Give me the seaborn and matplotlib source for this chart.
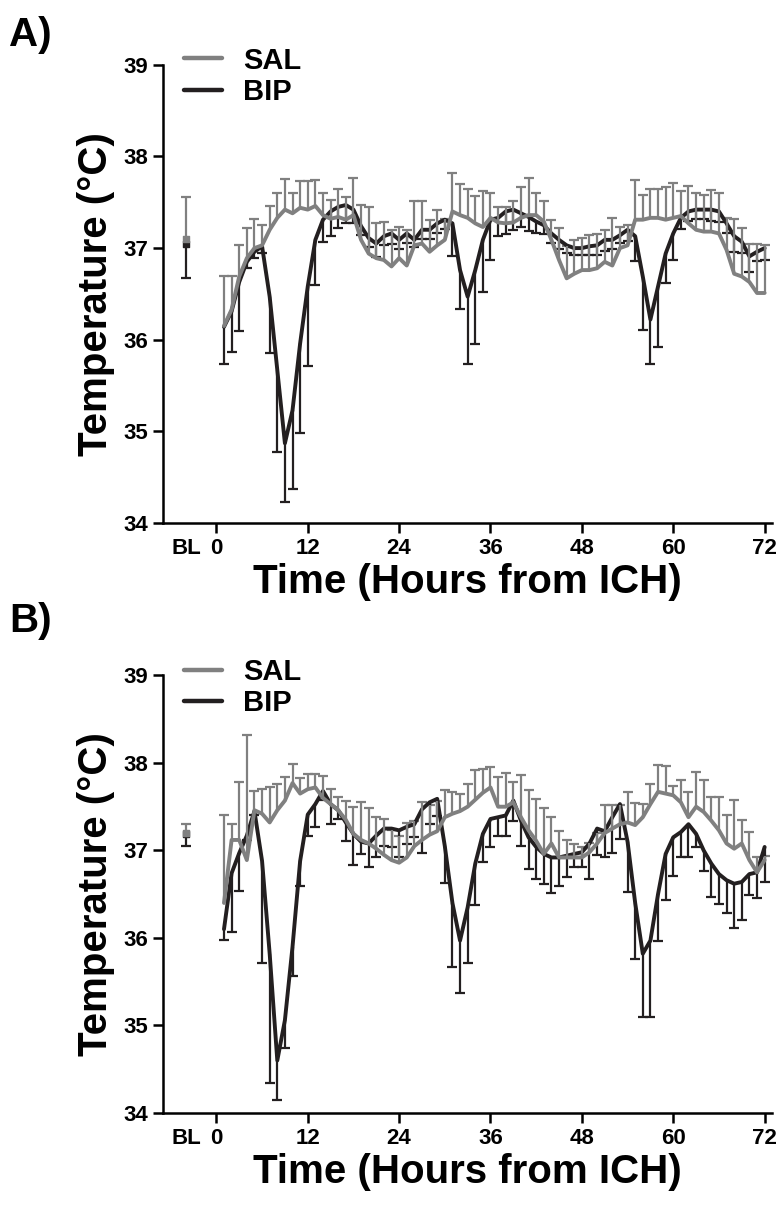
"""
ICH後の体温推移 (SAL vs BIP) を2パネルで再描画する。
SALは上側、BIPは下側のみのエラーバー (SEM)。
"""

import matplotlib
matplotlib.use("Agg")
import matplotlib.pyplot as plt
import numpy as np
import pandas as pd
import seaborn as sns
from matplotlib.lines import Line2D

hours = list(range(1, 73))

# Panel A
sal_a = [36.15, 36.33, 36.69, 36.89, 37.00, 37.03, 37.20, 37.33, 37.42, 37.38, 37.44, 37.42,
         37.46, 37.36, 37.32, 37.34, 37.31, 37.36, 37.09, 36.94, 36.89, 36.87, 36.80, 36.89,
         36.81, 37.03, 37.05, 36.96, 37.03, 37.09, 37.40, 37.36, 37.33, 37.27, 37.23, 37.33,
         37.28, 37.27, 37.28, 37.33, 37.36, 37.36, 37.29, 37.09, 36.87, 36.67, 36.72, 36.76,
         36.76, 36.78, 36.85, 36.81, 37.00, 37.03, 37.31, 37.31, 37.33, 37.33, 37.31, 37.33,
         37.35, 37.27, 37.20, 37.18, 37.18, 37.16, 36.98, 36.72, 36.69, 36.63, 36.51, 36.51]
sal_a_err = [0.55, 0.37, 0.34, 0.33, 0.32, 0.22, 0.26, 0.27, 0.33, 0.22, 0.29, 0.31,
             0.28, 0.24, 0.20, 0.30, 0.25, 0.40, 0.38, 0.51, 0.38, 0.42, 0.40, 0.34,
             0.39, 0.48, 0.46, 0.35, 0.39, 0.23, 0.42, 0.34, 0.31, 0.30, 0.39, 0.27,
             0.17, 0.18, 0.23, 0.34, 0.40, 0.24, 0.22, 0.22, 0.35, 0.35, 0.37, 0.35,
             0.38, 0.37, 0.35, 0.52, 0.23, 0.22, 0.43, 0.27, 0.32, 0.32, 0.36, 0.38,
             0.27, 0.41, 0.40, 0.40, 0.45, 0.44, 0.35, 0.60, 0.53, 0.42, 0.54, 0.52]
bip_a = [36.14, 36.31, 36.63, 36.85, 36.96, 37.02, 36.47, 35.67, 34.87, 35.23, 35.96, 36.58,
         37.09, 37.31, 37.40, 37.45, 37.47, 37.42, 37.24, 37.11, 37.05, 37.13, 37.16, 37.09,
         37.16, 37.09, 37.20, 37.20, 37.27, 37.31, 37.27, 36.76, 36.47, 36.76, 37.09, 37.31,
         37.33, 37.40, 37.42, 37.38, 37.34, 37.29, 37.25, 37.16, 37.09, 37.03, 37.00, 37.00,
         37.02, 37.03, 37.09, 37.09, 37.14, 37.20, 37.13, 36.69, 36.22, 36.58, 36.94, 37.16,
         37.33, 37.40, 37.42, 37.42, 37.42, 37.40, 37.27, 37.13, 37.07, 36.91, 36.96, 37.00]
bip_a_err = [0.40, 0.44, 0.54, 0.07, 0.07, 0.07, 0.62, 0.89, 0.64, 0.86, 0.98, 0.87,
             0.49, 0.24, 0.27, 0.23, 0.20, 0.15, 0.10, 0.10, 0.15, 0.10, 0.12, 0.10,
             0.10, 0.08, 0.10, 0.10, 0.10, 0.10, 0.36, 0.43, 0.73, 0.81, 0.57, 0.44,
             0.20, 0.25, 0.22, 0.15, 0.15, 0.12, 0.10, 0.10, 0.10, 0.08, 0.08, 0.08,
             0.10, 0.10, 0.12, 0.10, 0.08, 0.12, 0.27, 0.58, 0.49, 0.66, 0.32, 0.29,
             0.12, 0.10, 0.10, 0.10, 0.12, 0.12, 0.10, 0.17, 0.12, 0.17, 0.10, 0.13]

# Panel B
sal_b = [36.40, 37.12, 37.12, 36.89, 37.46, 37.42, 37.32, 37.46, 37.57, 37.77, 37.65, 37.70,
         37.72, 37.60, 37.53, 37.46, 37.35, 37.19, 37.12, 37.08, 37.02, 36.95, 36.89, 36.86,
         36.92, 37.05, 37.12, 37.18, 37.22, 37.38, 37.42, 37.45, 37.50, 37.58, 37.66, 37.72,
         37.50, 37.50, 37.55, 37.38, 37.23, 37.11, 36.96, 37.08, 36.92, 36.92, 36.92, 36.92,
         36.98, 37.08, 37.20, 37.25, 37.30, 37.32, 37.29, 37.38, 37.53, 37.67, 37.65, 37.63,
         37.55, 37.38, 37.50, 37.44, 37.34, 37.23, 37.08, 37.02, 37.08, 36.89, 36.75, 36.89]
sal_b_err = [1.00, 0.18, 0.66, 1.43, 0.22, 0.28, 0.40, 0.30, 0.27, 0.22, 0.18, 0.17,
             0.15, 0.25, 0.17, 0.15, 0.22, 0.31, 0.43, 0.41, 0.36, 0.41, 0.34, 0.31,
             0.39, 0.29, 0.43, 0.34, 0.35, 0.31, 0.25, 0.20, 0.26, 0.34, 0.27, 0.23,
             0.34, 0.38, 0.23, 0.48, 0.46, 0.48, 0.52, 0.30, 0.30, 0.20, 0.15, 0.12,
             0.10, 0.12, 0.32, 0.27, 0.22, 0.35, 0.25, 0.15, 0.23, 0.31, 0.31, 0.11,
             0.25, 0.29, 0.40, 0.37, 0.27, 0.38, 0.33, 0.56, 0.27, 0.32, 0.18, 0.05]
bip_b = [36.10, 36.74, 36.97, 37.17, 37.45, 36.88, 35.82, 34.60, 35.06, 35.90, 36.88, 37.41,
         37.53, 37.68, 37.53, 37.46, 37.32, 37.19, 37.10, 37.08, 37.17, 37.25, 37.25, 37.23,
         37.27, 37.30, 37.47, 37.55, 37.59, 37.05, 36.40, 35.97, 36.35, 36.85, 37.19, 37.36,
         37.38, 37.40, 37.57, 37.34, 37.15, 37.04, 36.96, 36.92, 36.92, 36.94, 36.96, 36.98,
         37.08, 37.25, 37.22, 37.38, 37.53, 37.10, 36.40, 35.82, 35.97, 36.50, 36.96, 37.15,
         37.21, 37.30, 37.19, 37.00, 36.85, 36.73, 36.66, 36.62, 36.64, 36.73, 36.75, 37.04]
bip_b_err = [0.12, 0.67, 0.43, 0.05, 0.05, 1.17, 1.48, 0.45, 0.32, 0.34, 0.29, 0.24,
             0.26, 0.10, 0.23, 0.10, 0.21, 0.36, 0.14, 0.27, 0.24, 0.20, 0.21, 0.30,
             0.20, 0.15, 0.50, 0.25, 0.20, 0.42, 0.73, 0.60, 0.64, 0.47, 0.32, 0.32,
             0.21, 0.23, 0.23, 0.29, 0.36, 0.37, 0.34, 0.41, 0.33, 0.24, 0.15, 0.17,
             0.41, 0.30, 0.29, 0.41, 0.40, 0.57, 0.64, 0.72, 0.87, 0.53, 0.53, 0.44,
             0.29, 0.38, 0.15, 0.23, 0.38, 0.34, 0.38, 0.51, 0.44, 0.24, 0.29, 0.40]

# ベースライン (BL)
bl_x = -4
bl_a = {"SAL": (37.10, 0.46), "BIP": (37.05, 0.38)}
bl_b = {"SAL": (37.20, 0.10), "BIP": (37.19, 0.14)}

xtick_pos = [-4, 0, 12, 24, 36, 48, 60, 72]
xtick_labels = ["BL", "0", "12", "24", "36", "48", "60", "72"]
ytick_pos = [34, 35, 36, 37, 38, 39]

SAL_COLOR = "#808080"
BIP_COLOR = "#231f20"


def one_sided_bars(ax, x, y, err, direction, color):
    # 片側だけのエラーバー (平均側にはキャップを付けない)
    y = np.asarray(y)
    tip = y + direction * np.asarray(err)
    ax.vlines(x, np.minimum(y, tip), np.maximum(y, tip), color=color, linewidth=1.6)
    ax.scatter(x, tip, marker="_", s=60, linewidths=1.6, color=color)


def draw_panel(ax, sal, sal_err, bip, bip_err, bl):
    bip_df = pd.DataFrame({"hour": hours, "temp": bip})
    sal_df = pd.DataFrame({"hour": hours, "temp": sal})

    one_sided_bars(ax, hours, bip, bip_err, -1, BIP_COLOR)
    sns.lineplot(data=bip_df, x="hour", y="temp", color=BIP_COLOR, linewidth=2.8, ax=ax)

    one_sided_bars(ax, hours, sal, sal_err, +1, SAL_COLOR)
    sns.lineplot(data=sal_df, x="hour", y="temp", color=SAL_COLOR, linewidth=2.8, ax=ax)

    # BL
    one_sided_bars(ax, [bl_x], [bl["BIP"][0]], [bl["BIP"][1]], -1, BIP_COLOR)
    one_sided_bars(ax, [bl_x], [bl["SAL"][0]], [bl["SAL"][1]], +1, SAL_COLOR)
    ax.scatter([bl_x], [bl["BIP"][0]], marker="s", s=14, color=BIP_COLOR, zorder=3)
    ax.scatter([bl_x], [bl["SAL"][0]], marker="s", s=14, color=SAL_COLOR, zorder=3)

    ax.set_xlim(-7, 73)
    ax.set_ylim(34, 39)
    ax.set_xticks(xtick_pos)
    ax.set_xticklabels(xtick_labels)
    ax.set_yticks(ytick_pos)
    ax.xaxis.get_major_ticks()[0].tick1line.set_visible(False)
    ax.tick_params(axis="both", labelsize=16, width=1.8, length=7, direction="out",
                   colors="black")

    ax.set_xlabel("Time (Hours from ICH)", fontsize=29, fontweight="bold", labelpad=3,
                  color="black")
    ax.set_ylabel("Temperature (°C)", fontsize=29, fontweight="bold", labelpad=6,
                  color="black")

    for side in ["left", "bottom"]:
        ax.spines[side].set_linewidth(1.8)
        ax.spines[side].set_color("black")
    sns.despine(ax=ax)

    handles = [Line2D([0], [0], color=SAL_COLOR, linewidth=3.2),
               Line2D([0], [0], color=BIP_COLOR, linewidth=3.2)]
    leg = ax.legend(handles, ["SAL", "BIP"], loc="upper left", bbox_to_anchor=(0.035, 1.04),
                    frameon=False, prop={"weight": "bold", "size": 21}, handlelength=1.3,
                    handletextpad=0.7, labelspacing=0.12, borderpad=0, borderaxespad=0)
    for t in leg.get_texts():
        t.set_color("black")


def main():
    sns.set_style("ticks")
    plt.rcParams["font.family"] = ["Liberation Sans", "DejaVu Sans"]
    plt.rcParams["font.weight"] = "bold"
    plt.rcParams["axes.labelweight"] = "bold"
    plt.rcParams["text.color"] = "black"

    fig = plt.figure(figsize=(7.84, 12.12), dpi=100)
    ax_a = fig.add_axes([0.208, 0.5685, 0.777, 0.378])
    ax_b = fig.add_axes([0.208, 0.0817, 0.777, 0.361])

    draw_panel(ax_a, sal_a, sal_a_err, bip_a, bip_a_err, bl_a)
    draw_panel(ax_b, sal_b, sal_b_err, bip_b, bip_b_err, bl_b)

    fig.text(0.012, 0.987, "A)", fontsize=29, fontweight="bold", va="top", color="black")
    fig.text(0.012, 0.503, "B)", fontsize=29, fontweight="bold", va="top", color="black")

    fig.savefig("out.png", dpi=100)
    plt.close(fig)


if __name__ == "__main__":
    main()
